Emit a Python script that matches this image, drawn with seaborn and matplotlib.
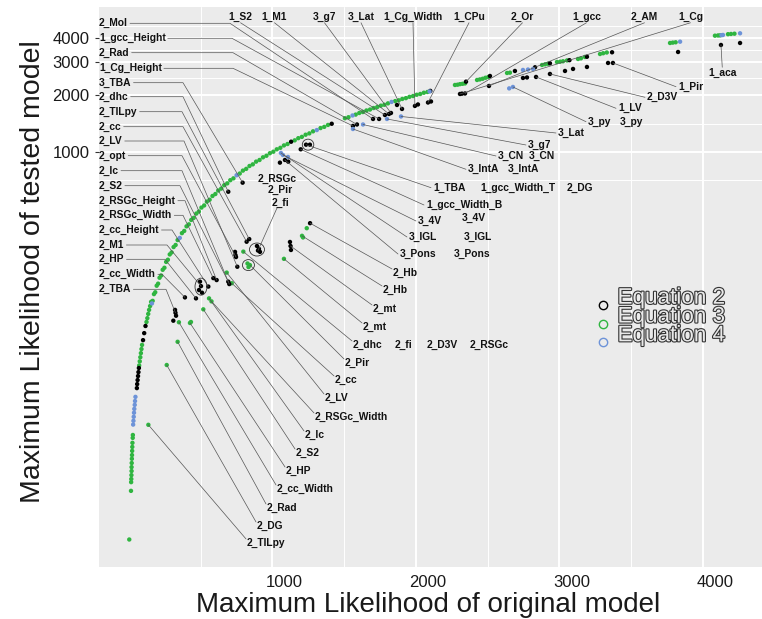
import matplotlib
matplotlib.use("Agg")
import matplotlib.pyplot as plt
import matplotlib.patheffects as pe
from matplotlib.lines import Line2D
from matplotlib.patches import Ellipse
from matplotlib.ticker import FixedLocator, FixedFormatter, NullFormatter
from matplotlib.transforms import ScaledTranslation, IdentityTransform
import pandas as pd
import seaborn as sns

W, H = 762, 619

# ---------------- data ----------------
# Equation 3 (green): points near the diagonal + a few off it
eq3_x = [2, 14, 15, 16, 17, 18, 18, 19, 20, 21, 22, 23, 24, 26, 27,
         71, 75, 79, 83, 87, 91, 122, 128, 134, 140, 147, 154,
         165, 174, 183, 193, 203, 213, 224, 235, 247, 259,
         271, 284, 297, 311, 325, 339, 369, 385, 401, 417,
         434, 451, 469, 487, 505, 524, 543, 562, 582, 602,
         622, 643, 664, 685, 706, 728, 772, 794, 817, 840,
         863, 886, 910, 934, 958, 982, 1006, 1030, 1055, 1080,
         1105, 1155, 1180, 1205, 1231, 1257, 1283, 1335, 1361, 1387,
         1505, 1530, 1580, 1605, 1630, 1655, 1680, 1705, 1730, 1755, 1780,
         1805, 1855, 1880, 1905, 1930, 1955, 1980, 2005, 2030, 2055, 2080,
         2272, 2290, 2307, 2325, 2342, 2426, 2445, 2465, 2485, 2505,
         2635, 2655, 2879, 2900, 2920, 2983, 3005, 3025, 3053,
         3130, 3150, 3178, 3283, 3305, 3330, 3771, 3790, 3810,
         4084, 4105, 4119, 4175, 4196, 4220,
         826, 833, 432, 1213, 1239]
eq3_y = [8.9, 16.1, 17.9, 18.6, 19.5, 20.5, 21.5, 22.6, 23.8, 24.9, 26.2, 27.5, 28.9, 30.7, 31.8,
         74.2, 78.0, 82.0, 86.2, 90.6, 95.3, 126, 132, 139, 146, 153, 161,
         163, 177, 181, 196, 201, 216, 222, 238, 244, 262,
         269, 287, 294, 314, 322, 342, 372, 382, 404, 414,
         437, 448, 472, 484, 508, 521, 546, 559, 585, 599,
         625, 640, 667, 682, 709, 725, 769, 797, 814, 843,
         860, 889, 907, 937, 955, 985, 1003, 1033, 1052, 1083,
         1102, 1152, 1183, 1202, 1234, 1254, 1286, 1338, 1358, 1390,
         1508, 1527, 1577, 1608, 1627, 1658, 1677, 1708, 1727, 1758, 1777,
         1808, 1858, 1877, 1908, 1927, 1958, 1977, 2008, 2027, 2058, 2077,
         2262, 2270, 2285, 2295, 2305, 2404, 2420, 2440, 2470, 2495,
         2618, 2628, 2886, 2910, 2930, 2993, 3005, 3020, 3050,
         3105, 3130, 3182, 3299, 3330, 3360, 3773, 3790, 3805,
         4124, 4135, 4140, 4200, 4211, 4225,
         257, 246, 126, 353, 395]

# Equation 2 (black)
eq2_x = [55, 57, 60, 63, 66, 69, 98, 106, 115, 1130, 1413, 2100,
         2516, 2690, 2830, 2934, 3070, 3192, 3367,
         892, 906, 913, 739, 742, 488, 509, 495, 321, 328, 309,
         1052, 1110, 1261, 1122, 1129, 2321, 2746, 2774,
         3039, 3095, 3192, 3339, 3827, 4259, 1868, 2014, 2105]
eq2_y = [56.3, 59.1, 62.1, 65.2, 68.4, 71.9, 101, 110, 120, 1133, 1410, 2105,
         2524, 2683, 2806, 2946, 3060, 3190, 3369,
         318, 307, 296, 296, 285, 186, 180, 206, 146, 136, 128,
         878, 889, 1093, 334, 303, 2035, 2464, 2479,
         2683, 2750, 2817, 2958, 3381, 3773, 1773, 1784, 1850]

# Equation 4 (blue)
eq4_x = [29, 31, 33, 35, 37, 40, 42, 45, 160, 354, 750, 1309,
         1558, 1830, 2095, 2746, 2781, 2816, 3841, 4130, 4140, 4259, 2650, 1108]
eq4_y = [36.1, 37.8, 39.7, 41.7, 43.7, 45.9, 48.1, 50.6, 158, 351, 753, 1306,
         1560, 1840, 2090, 2716, 2730, 2750, 3833, 4150, 4160, 4246, 2170, 941]

# labelled points
lab_names = ["2_Mol", "1_gcc_Height", "2_Rad", "1_Cg_Height", "3_TBA", "2_dhc", "2_TILpy",
             "2_cc", "2_LV", "2_opt", "2_lc", "2_S2", "2_RSGc_Height", "2_RSGc_Width",
             "2_cc_Height", "2_M1", "2_HP", "2_cc_Width", "2_TBA",
             "1_S2", "1_M1", "3_g7", "3_Lat", "1_Cg_Width", "1_CPu", "2_Or", "1_gcc", "2_AM", "1_Cg",
             "1_aca", "1_Pir", "2_D3V", "1_LV", "3_py", "3_Lat", "3_g7", "3_CN", "3_IntA",
             "1_TBA", "1_gcc_Width_B", "3_4V", "3_IGL", "3_Pons",
             "2_Hb", "2_Hb", "2_mt", "2_mt", "2_dhc", "2_Pir", "2_cc", "2_LV", "2_RSGc_Width",
             "2_lc", "2_S2", "2_HP", "2_cc_Width", "2_Rad", "2_DG", "2_TILpy", "2_fi"]
lab_x = [1701, 1743, 1589, 1561, 792, 692, 838, 820, 755, 746, 699, 692, 611, 588,
         553, 502, 467, 390, 324,
         1784, 1812, 1826, 1903, 1993, 2084, 2349, 2342, 2509, 2307,
         4126, 3373, 2934, 2837, 2676, 1896, 1798, 1631, 1561,
         1234, 1197, 1073, 1059, 1087,
         1262, 1206, 1126, 1080, 797, 843, 716, 681, 575, 558, 518, 425, 348, 339, 263, 135, 899]
lab_y = [1495, 1495, 1398, 1373, 688, 616, 346, 335, 247, 278, 200, 206, 210, 215,
         194, 195, 168, 170, 141,
         1569, 1589, 1608, 1689, 1752, 1827, 2355, 2039, 2235, 2027,
         3683, 2958, 2587, 2494, 2208, 1541, 1495, 1398, 1323,
         1093, 1033, 964, 988, 907,
         420, 360, 318, 272, 297, 252, 202, 230, 162, 168, 147, 124.5, 125.6, 99, 74.6, 36, 301]
lab_eq = [2] * 29 + [2, 2, 2, 2, 4, 4, 4, 4, 4, 2, 2, 4, 4, 2,
                     2, 3, 2, 3, 3, 3, 3, 3, 3, 3, 3, 3, 3, 3, 3, 3, 2]

x_ticks = [1000, 2000, 3000, 4000]
y_ticks = [1000, 2000, 3000, 4000]

# ---------------- layout (reference pixel positions) ----------------
# (label index, px, py, ha, leader mode, elbow px)
left_rows = [23.3, 38.3, 52.7, 68.3, 82.7, 96.7, 111.7, 126.7, 141, 155.7, 170.7,
             185.7, 200.7, 215.3, 230, 245, 259.3, 274.3, 289.3]
left_elbows = [230, 232, 233, 233, 183, 183, 182, 183, 184, 182, 182,
               180, 185, 183, 172, 167, 165, 162, 166]
layout = [(i, 99, py, "left", "L", e) for i, (py, e) in enumerate(zip(left_rows, left_elbows))]
top_cols = [240.5, 274.5, 324.5, 361, 413, 469, 522.5, 586.5, 644.5, 690.5]
layout += [(19 + i, cx, 16.7, "center", "T", None) for i, cx in enumerate(top_cols)]
side = [(708, 73.3, "N"), (678, 86.7, "W"), (647, 97.3, "W"), (618, 108.3, "W"),
        (588, 121.7, "W"), (558, 133, "W"), (528, 145, "W"), (498, 156, "W"),
        (468, 169.3, "W"), (433, 187.7, "W"), (426, 205, "W"), (418, 221, "W"),
        (409, 237, "W"), (400, 254, "W"),
        (393, 273, "NW"), (383, 290, "NW"), (373, 309, "NW"), (363, 327, "NW"),
        (353, 345, "NW"), (345, 363, "NW"), (335, 380, "NW"), (325, 398, "NW"),
        (315, 417, "NW"), (305, 435, "NW"), (296, 453, "NW"), (286, 471, "NW"),
        (277, 489, "NW"), (267, 508, "NW"), (257, 526, "NW"), (247, 543, "NW")]
layout += [(29 + i, px, py, "left", m, None) for i, (px, py, m) in enumerate(side)]
layout.append((59, 280, 203, "center", "S", None))

# labels that sit without a leader line
free_labels = [("2_RSGc", 277.5, 179.3, "center"), ("2_Pir", 280, 190, "center"),
               ("3_py", 620, 121.7, "left"), ("3_CN", 529, 156, "left"),
               ("3_IntA", 508, 169.3, "left"), ("1_gcc_Width_T", 480, 187.7, "left"),
               ("2_DG", 567, 187.7, "left"), ("3_4V", 462, 218, "left"),
               ("3_IGL", 464, 237, "left"), ("3_Pons", 454, 254, "left"),
               ("2_fi", 395, 345, "left"), ("2_D3V", 427, 345, "left"),
               ("2_RSGc", 470, 345, "left")]

# rings around small clusters: (label index, dx px, dy px, width px, height px)
rings = [(38, 2, 0, 11.5, 11), (59, -1, 1, 15, 13), (48, -1.5, 0, 12, 11), (15, 0, -0.5, 12, 17)]

# legend: marker x, first baseline y, row step, text x (reference pixels)
leg_mx, leg_base, leg_step, leg_tx = 603.3, 303.7, 18.8, 617.5

# ---------------- plotting ----------------
sns.set_theme(style="darkgrid", rc={"axes.facecolor": "#EBEBEB", "grid.color": "white"})
plt.rcParams["font.family"] = ["Liberation Sans", "DejaVu Sans"]

colors = {"Equation 2": "#000000", "Equation 3": "#2fb540", "Equation 4": "#6d93d8"}

def frame(xs, ys, eq):
    return pd.DataFrame({"x": xs, "y": ys, "eq": eq})

lab_df = pd.DataFrame({"x": lab_x, "y": lab_y, "eq": [f"Equation {e}" for e in lab_eq]})
df = pd.concat([frame(eq3_x, eq3_y, "Equation 3"), lab_df[lab_df["eq"] == "Equation 3"],
                frame(eq2_x, eq2_y, "Equation 2"), lab_df[lab_df["eq"] == "Equation 2"],
                frame(eq4_x, eq4_y, "Equation 4"), lab_df[lab_df["eq"] == "Equation 4"]],
               ignore_index=True)

fig = plt.figure(figsize=(W / 100, H / 100), dpi=100)
ax = fig.add_axes([99 / W, (H - 566.7) / H, (W - 99) / W, (566.7 - 7) / H])
sns.scatterplot(data=df, x="x", y="y", hue="eq", palette=colors, s=10, linewidth=0,
                legend=False, ax=ax)
ax.set_yscale("log")
ax.set_xlim(-209, 4412)
ax.set_ylim(6.39, 5849)

ax.xaxis.set_major_locator(FixedLocator(x_ticks))
ax.xaxis.set_major_formatter(FixedFormatter([str(v) for v in x_ticks]))
ax.xaxis.set_minor_locator(FixedLocator([500, 1500, 2500, 3500]))
ax.yaxis.set_major_locator(FixedLocator(y_ticks))
ax.yaxis.set_major_formatter(FixedFormatter([str(v) for v in y_ticks]))
ax.yaxis.set_minor_locator(FixedLocator([707, 1414, 2449, 3464, 4619]))
ax.yaxis.set_minor_formatter(NullFormatter())
ax.grid(True, which="major", color="white", linewidth=1.4)
ax.grid(True, which="minor", color="white", linewidth=0.7)
ax.tick_params(axis="y", which="major", length=3, width=0.8, color="#333333", pad=4,
               labelsize=12, labelcolor="#1a1a1a", left=True)
ax.tick_params(axis="x", which="major", length=0, pad=6, labelsize=12, labelcolor="#1a1a1a")
ax.tick_params(which="minor", length=0)
for s in ax.spines.values():
    s.set_visible(False)
for lbl in ax.get_xticklabels():
    lbl.set_transform(lbl.get_transform() + ScaledTranslation(12 / 100, 0, fig.dpi_scale_trans))

ax.set_xlabel("Maximum Likelihood of original model", fontsize=20, color="#1a1a1a")
ax.set_ylabel("Maximum Likelihood of tested model", fontsize=20.5, color="#1a1a1a")
ax.xaxis.label.set_va("center")
ax.yaxis.label.set_va("center")
ax.xaxis.set_label_coords((428 - 99) / (W - 99), -(605 - 566.7) / (566.7 - 7))
ax.yaxis.set_label_coords((33 - 99) / (W - 99), (566.7 - 272) / (566.7 - 7))

# legend (hollow circles + outlined text, marker sits on the text baseline)
for i, (name, c) in enumerate(colors.items()):
    base = leg_base + i * leg_step
    fig.add_artist(Line2D([leg_mx], [H - base - 1], ls="none", marker="o", ms=6, mfc="none",
                          mec=c, mew=1.0, transform=IdentityTransform(), zorder=4))
    fig.text(leg_tx / W, 1 - base / H, name, ha="left", va="baseline", fontsize=16.2,
             color="#e9e9e9", zorder=4,
             path_effects=[pe.withStroke(linewidth=1.6, foreground="#333333")])

# labels and leader lines
label_kw = dict(fontsize=7.4, fontweight="bold", color="#111111", va="center", zorder=4)
renderer = fig.canvas.get_renderer()
line_kw = dict(transform=IdentityTransform(), color="#555555", lw=0.5, zorder=3)

for idx, px, py, ha, mode, elbow in layout:
    t = fig.text(px / W, 1 - py / H, lab_names[idx], ha=ha, **label_kw)
    bb = t.get_window_extent(renderer)
    tx, ty = ax.transData.transform((lab_x[idx], lab_y[idx]))
    xc, yc = (bb.x0 + bb.x1) / 2, (bb.y0 + bb.y1) / 2
    if mode == "L":
        xs, ys = [bb.x1 + 2], [yc]
        if elbow is not None and elbow > bb.x1 + 2:
            xs.append(elbow)
            ys.append(yc)
    elif mode == "T":
        xs, ys = [xc], [bb.y0 - 1]
    elif mode == "N":
        xs, ys = [xc], [bb.y1 + 1]
    elif mode == "S":
        xs, ys = [xc - 3], [bb.y0]
    elif mode == "W":
        xs, ys = [bb.x0 - 2], [yc]
    else:
        xs, ys = [bb.x0 - 1], [bb.y1 - 1]
    xs.append(tx)
    ys.append(ty)
    fig.add_artist(Line2D(xs, ys, **line_kw))

for name, px, py, ha in free_labels:
    fig.text(px / W, 1 - py / H, name, ha=ha, **label_kw)

for idx, dx, dy, w, h in rings:
    cx, cy = ax.transData.transform((lab_x[idx], lab_y[idx]))
    fig.add_artist(Ellipse((cx + dx, cy + dy), w, h, transform=IdentityTransform(),
                           fill=False, ec="#333333", lw=0.6, zorder=3))

fig.savefig("out.png", dpi=100)
